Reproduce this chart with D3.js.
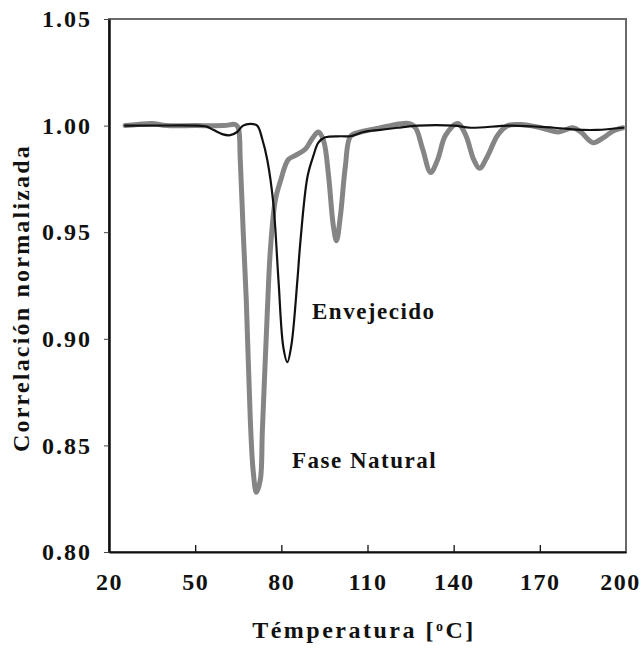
<!DOCTYPE html>
<html>
<head>
<meta charset="utf-8">
<script src="https://cdn.jsdelivr.net/npm/d3@7"></script>
<style>
  body { margin: 0; background: #ffffff; }
  text { font-family: "Liberation Serif", "Times New Roman", serif; font-weight: bold; fill: #111; }
</style>
</head>
<body>
<svg id="chart" width="644" height="649"></svg>
<script>
// Axis ticks
const xTicks = [20, 50, 80, 110, 140, 170, 200];
const yTicks = [0.80, 0.85, 0.90, 0.95, 1.00, 1.05];

// "Fase Natural" series: temperature (°C) and normalized correlation
const tempNatural = [25.6, 30, 35, 40, 50, 60, 64, 65, 65.7, 66.7, 67.8, 69.2, 70.2, 71.3, 72.7, 73.4, 75.1, 76.2, 77.9, 79.7, 82.4, 84.9, 88.4, 90.8, 92.9, 94.7, 96.4, 98.1, 99.2, 100.6, 102.3, 104.1, 107.6, 112.8, 118, 124.3, 126.7, 129.2, 132, 134.4, 137.2, 141.4, 144.2, 147, 149, 151.9, 155.3, 158.8, 163.4, 170.3, 176.3, 181.5, 184.3, 188.5, 192.3, 195.5, 199];
const corrNatural = [1.000, 1.0005, 1.001, 1.000, 1.000, 1.000, 1.0005, 0.999, 0.984, 0.951, 0.918, 0.862, 0.838, 0.828, 0.834, 0.857, 0.912, 0.942, 0.965, 0.974, 0.984, 0.986, 0.989, 0.994, 0.997, 0.993, 0.977, 0.953, 0.946, 0.958, 0.981, 0.995, 0.997, 0.9985, 1.000, 1.001, 0.999, 0.989, 0.978, 0.984, 0.9955, 1.001, 0.9955, 0.984, 0.980, 0.986, 0.9955, 1.000, 1.0005, 0.999, 0.997, 0.999, 0.997, 0.992, 0.9945, 0.9975, 0.999];

// "Envejecido" series
const tempAged = [25.6, 35, 50, 54, 56.3, 59.4, 62.2, 64.6, 66.7, 69.2, 71.6, 73.4, 75.1, 77.2, 79, 80.7, 82.1, 83.5, 85.6, 86.6, 89.1, 91.2, 92.9, 95.3, 100.6, 104, 108.6, 114.5, 120.5, 127.4, 140, 145.9, 160, 175, 185, 190, 199];
const corrAged = [1.000, 1.000, 1.000, 0.9995, 0.998, 0.996, 0.9955, 0.997, 1.000, 1.0008, 1.000, 0.9935, 0.984, 0.9637, 0.9276, 0.896, 0.889, 0.897, 0.9276, 0.945, 0.976, 0.986, 0.992, 0.9945, 0.995, 0.995, 0.997, 0.998, 0.999, 1.000, 1.000, 0.999, 1.000, 0.999, 0.998, 0.998, 0.999];

const svg = d3.select("#chart");
const plot = { left: 109, right: 626, top: 19, bottom: 552 };

const x = d3.scaleLinear().domain([20, 200]).range([plot.left, plot.right]);
const y = d3.scaleLinear().domain([0.80, 1.05]).range([plot.bottom, plot.top]);

// Frame: light top/right, dark left/bottom
svg.append("rect")
  .attr("x", plot.left).attr("y", plot.top)
  .attr("width", plot.right - plot.left).attr("height", plot.bottom - plot.top)
  .attr("fill", "none").attr("stroke", "#6a6a6a").attr("stroke-width", 2);

// X axis: ticks pointing into the plot
const xAxis = d3.axisBottom(x).tickValues(xTicks).tickSizeInner(-7).tickSizeOuter(0).tickFormat(d3.format("d")).tickPadding(21);
const gx = svg.append("g").attr("transform", `translate(0,${plot.bottom})`).call(xAxis);
gx.select(".domain").attr("stroke", "#111").attr("stroke-width", 2);
gx.selectAll(".tick line").attr("stroke", "#111").attr("stroke-width", 1.3)
  .attr("display", d => (d === 20 || d === 200) ? "none" : null);
gx.selectAll(".tick text").attr("font-size", 24).attr("font-family", "Liberation Serif").attr("font-weight", "bold").attr("fill", "#111").attr("letter-spacing", 1.5)
  .attr("dx", d => d === 200 ? -6 : 0);

// Y axis: short outward ticks
const yAxis = d3.axisLeft(y).tickValues(yTicks).tickSizeInner(5).tickSizeOuter(0).tickFormat(d3.format(".2f")).tickPadding(12);
const gy = svg.append("g").attr("transform", `translate(${plot.left},0)`).call(yAxis);
gy.select(".domain").attr("stroke", "#111").attr("stroke-width", 2.5);
gy.selectAll(".tick line").attr("stroke", "#444").attr("stroke-width", 1);
gy.selectAll(".tick text").attr("font-size", 24).attr("font-family", "Liberation Serif").attr("font-weight", "bold").attr("fill", "#111").attr("letter-spacing", 2);

// Axis titles
const xTitle = svg.append("text")
  .attr("x", 364).attr("y", 638)
  .attr("text-anchor", "middle").attr("font-size", 24).attr("letter-spacing", 2.5);
xTitle.append("tspan").text("Témperatura [");
xTitle.append("tspan").attr("baseline-shift", "super").attr("font-size", 14).text("o");
xTitle.append("tspan").text("C]");

svg.append("text")
  .attr("transform", `translate(29,298) rotate(-90)`)
  .attr("text-anchor", "middle").attr("font-size", 24).attr("letter-spacing", 2.2)
  .text("Correlación normalizada");

// Series lines
const lineNatural = d3.line()
  .x((d, i) => x(tempNatural[i]))
  .y(d => y(d))
  .curve(d3.curveCatmullRom.alpha(0.5));
const lineAged = d3.line()
  .x((d, i) => x(tempAged[i]))
  .y(d => y(d))
  .curve(d3.curveCatmullRom.alpha(0.5));

svg.append("path").datum(corrNatural)
  .attr("d", lineNatural)
  .attr("fill", "none").attr("stroke", "#858585").attr("stroke-width", 5)
  .attr("stroke-linejoin", "round").attr("stroke-linecap", "round");

svg.append("path").datum(corrAged)
  .attr("d", lineAged)
  .attr("fill", "none").attr("stroke", "#111").attr("stroke-width", 2.2)
  .attr("stroke-linejoin", "round").attr("stroke-linecap", "round");

// Series labels
svg.append("text").attr("x", 312).attr("y", 319).attr("font-size", 23).attr("letter-spacing", 1.5).text("Envejecido");
svg.append("text").attr("x", 292).attr("y", 468).attr("font-size", 23).attr("letter-spacing", 1.5).text("Fase Natural");
</script>
</body>
</html>
